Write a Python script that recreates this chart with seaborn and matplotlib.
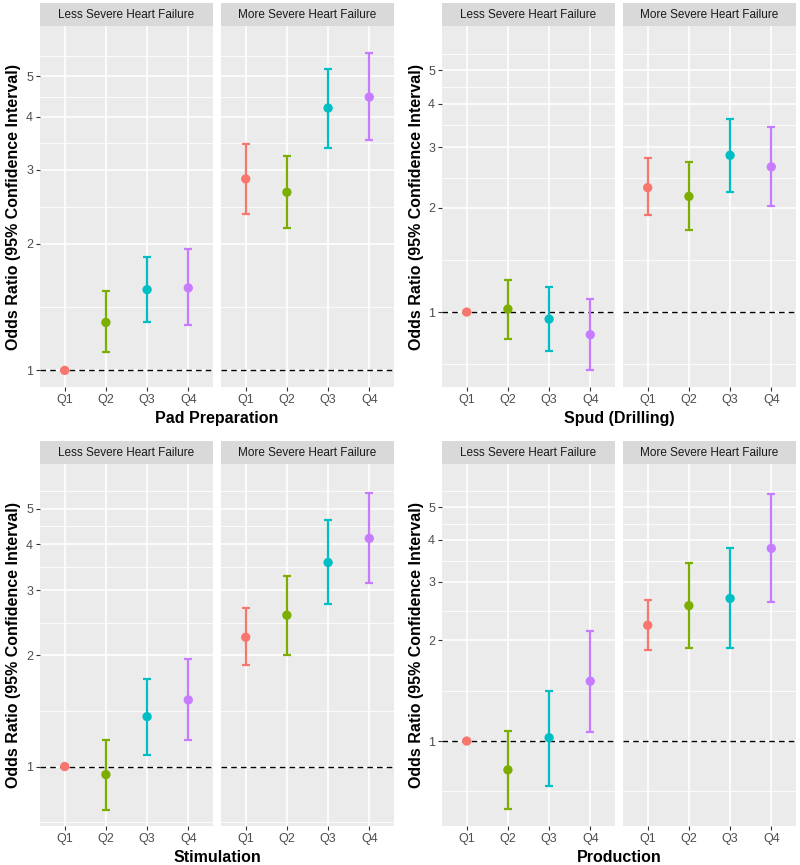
import matplotlib
matplotlib.use('Agg')
import matplotlib.pyplot as plt
import seaborn as sns
import pandas as pd

# Quartile categories and facet names
quartiles = ['Q1', 'Q2', 'Q3', 'Q4']
severity = ['Less Severe Heart Failure', 'More Severe Heart Failure']
palette = ['#F8766D', '#7CAE00', '#00BFC4', '#C77CFF']

# Odds ratios with 95% CI, per exposure (less severe then more severe)
pad_or = [1.00, 1.30, 1.555, 1.57, 2.85, 2.65, 4.20, 4.46]
pad_lo = [1.00, 1.105, 1.30, 1.28, 2.35, 2.18, 3.38, 3.52]
pad_hi = [1.00, 1.54, 1.86, 1.94, 3.45, 3.23, 5.21, 5.68]

spud_or = [1.00, 1.02, 0.954, 0.86, 2.29, 2.16, 2.84, 2.63]
spud_lo = [1.00, 0.837, 0.77, 0.678, 1.91, 1.73, 2.23, 2.02]
spud_hi = [1.00, 1.235, 1.18, 1.09, 2.79, 2.71, 3.62, 3.42]

stim_or = [1.00, 0.951, 1.365, 1.515, 2.24, 2.57, 3.57, 4.15]
stim_lo = [1.00, 0.764, 1.076, 1.18, 1.88, 2.01, 2.75, 3.14]
stim_hi = [1.00, 1.18, 1.73, 1.95, 2.68, 3.29, 4.66, 5.51]

prod_or = [1.00, 0.82, 1.023, 1.51, 2.22, 2.54, 2.67, 3.77]
prod_lo = [1.00, 0.625, 0.736, 1.064, 1.87, 1.90, 1.90, 2.60]
prod_hi = [1.00, 1.074, 1.41, 2.14, 2.65, 3.40, 3.77, 5.49]

y_breaks = [1, 2, 3, 4, 5]
y_minor = [0.707, 1.414, 2.449, 3.464, 4.472, 5.590]

W, H = 800, 865
fig = plt.figure(figsize=(8, 8.65), dpi=100)
fig.patch.set_facecolor('white')
FONT = 'Liberation Sans'


def fx(px):
    return px / W


def fy(py):
    return 1 - py / H


def make_plot(x0, y_top, y_bot, xlabel, ors, los, his, ylim):
    df = pd.DataFrame({
        'severity': [s for s in severity for _ in quartiles],
        'quartile': quartiles * 2,
        'odds': ors, 'lo': los, 'hi': his,
    })
    panel_x = [(x0 + 40, x0 + 213), (x0 + 221, x0 + 394)]
    strip_h = 23
    for i, (sev, (xa, xb)) in enumerate(zip(severity, panel_x)):
        ax = fig.add_axes([fx(xa), fy(y_bot), fx(xb - xa), (y_bot - y_top - strip_h) / H])
        sub = df[df['severity'] == sev].reset_index(drop=True)
        ax.set_facecolor('#EBEBEB')
        ax.set_yscale('log')
        for m in y_minor:
            ax.axhline(m, color='white', lw=0.6, zorder=0)
        for b in y_breaks:
            ax.axhline(b, color='white', lw=1.2, zorder=0)
        for k in range(4):
            ax.axvline(k, color='white', lw=1.2, zorder=0)
        ax.axhline(1, color='black', lw=1.0, ls=(0, (4, 3)), zorder=1)
        sub = sub.assign(x=range(len(sub)))
        for k in range(len(sub)):
            ax.errorbar(sub['x'][k], sub['odds'][k],
                        yerr=[[sub['odds'][k] - sub['lo'][k]], [sub['hi'][k] - sub['odds'][k]]],
                        fmt='none', ecolor=palette[k], elinewidth=1.6,
                        capsize=2.6, capthick=1.6, zorder=2)
        sns.scatterplot(data=sub, x='x', y='odds', hue='quartile', palette=palette,
                        s=45, linewidth=0, legend=False, ax=ax, zorder=3)
        ax.set_xlim(-0.6, 3.6)
        ax.set_ylim(*ylim)
        ax.set_xticks(range(4))
        ax.set_xticklabels(quartiles, fontsize=9, color='#4D4D4D', family=FONT)
        ax.set_yticks(y_breaks)
        ax.set_yticks([], minor=True)
        ax.set_xlabel('')
        ax.set_ylabel('')
        ax.tick_params(axis='both', length=3, color='#333333', width=0.8, pad=2)
        if i == 0:
            ax.set_yticklabels([str(b) for b in y_breaks], fontsize=9,
                               color='#4D4D4D', family=FONT)
        else:
            ax.tick_params(axis='y', left=False, labelleft=False)
        for sp in ax.spines.values():
            sp.set_visible(False)
        # facet strip
        st = fig.add_axes([fx(xa), fy(y_top + strip_h), fx(xb - xa), strip_h / H])
        st.set_facecolor('#D9D9D9')
        st.set_xticks([])
        st.set_yticks([])
        for sp in st.spines.values():
            sp.set_visible(False)
        st.text(0.5, 0.5, sev, ha='center', va='center', fontsize=8.5,
                color='#1A1A1A', family=FONT, transform=st.transAxes)
    fig.text(fx(x0 + 217), fy(y_bot + 31), xlabel, ha='center', va='center',
             fontsize=11.5, fontweight='bold', family=FONT)
    fig.text(fx(x0 + 14), fy((y_top + strip_h + y_bot) / 2), 'Odds Ratio (95% Confidence Interval)',
             rotation=90, ha='center', va='center', fontsize=11.5, fontweight='bold', family=FONT)


make_plot(0, 3, 387, 'Pad Preparation', pad_or, pad_lo, pad_hi, (0.913, 6.58))
make_plot(402, 3, 387, 'Spud (Drilling)', spud_or, spud_lo, spud_hi, (0.607, 6.72))
make_plot(0, 441, 826, 'Stimulation', stim_or, stim_lo, stim_hi, (0.69, 6.6))
make_plot(402, 441, 826, 'Production', prod_or, prod_lo, prod_hi, (0.557, 6.74))

fig.savefig('out.png', dpi=100, facecolor='white')
